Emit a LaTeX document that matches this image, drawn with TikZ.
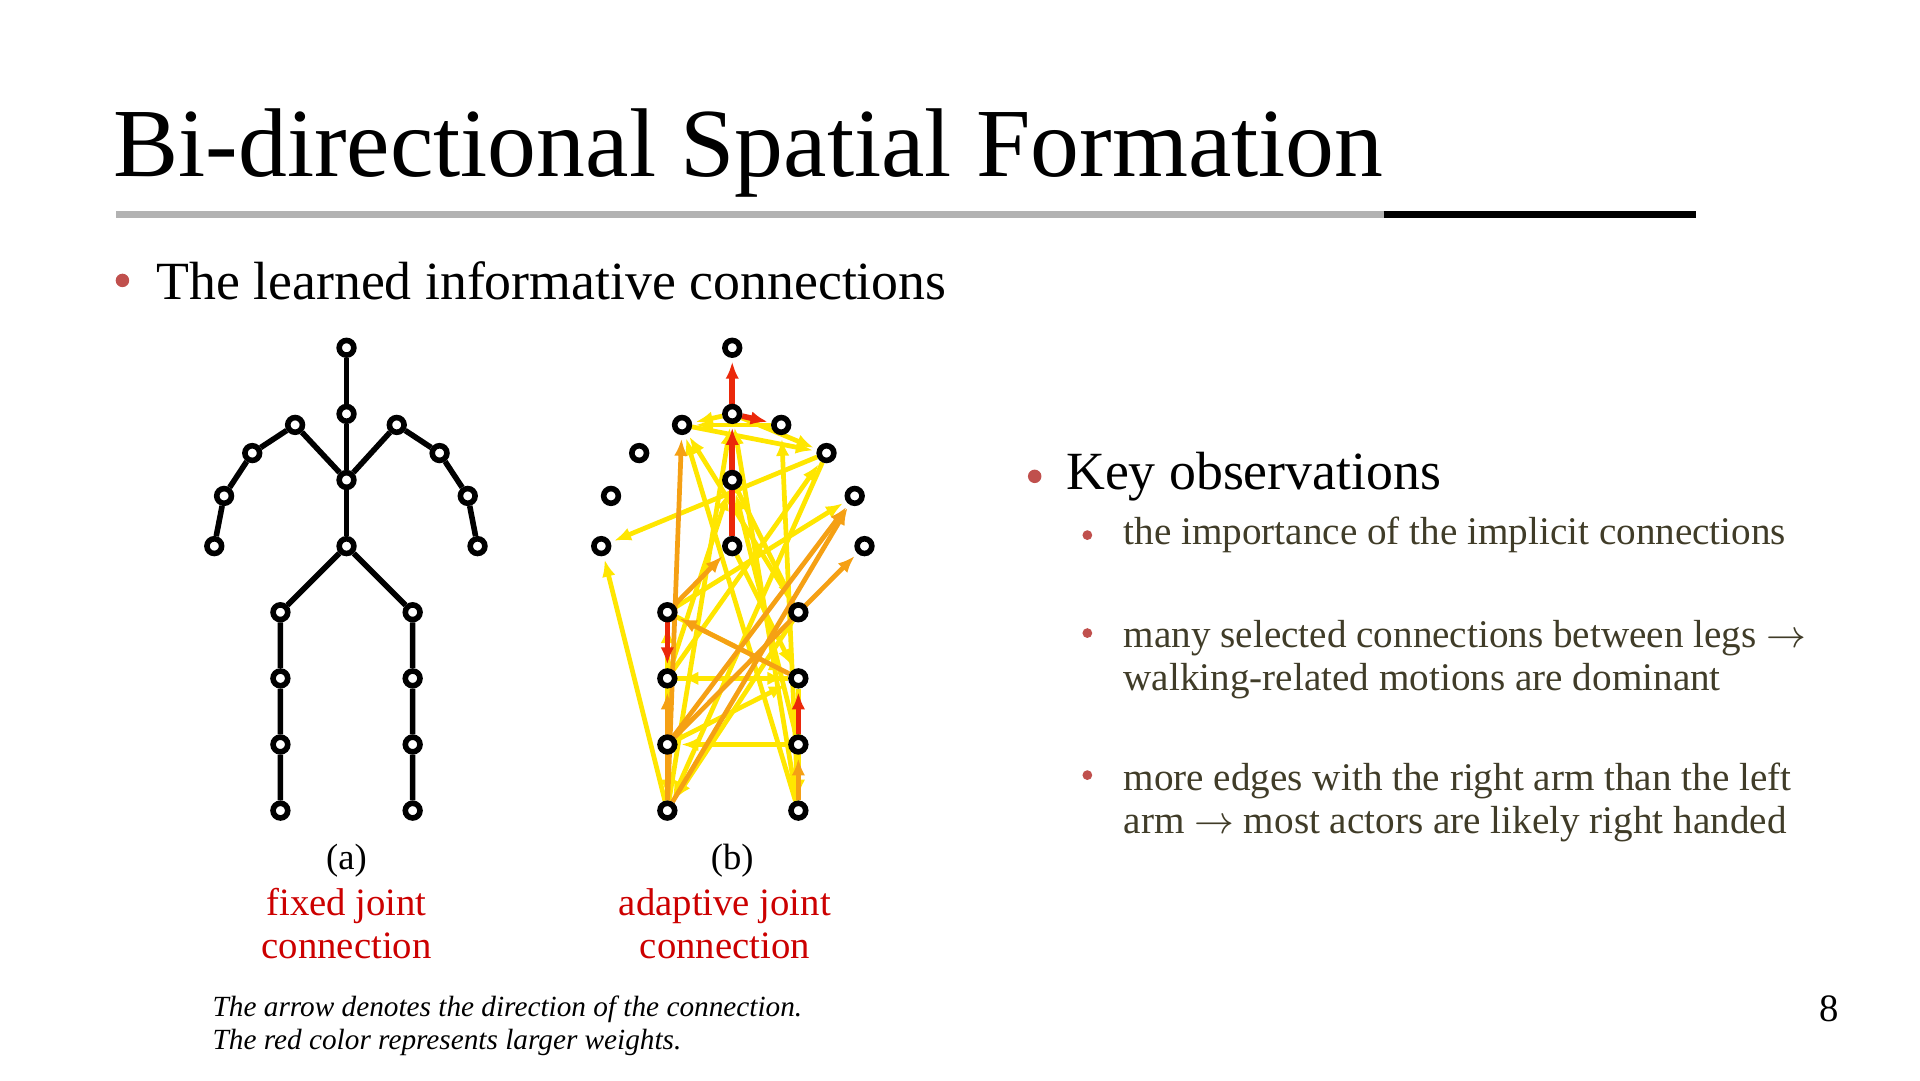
\documentclass[tikz,border=0pt]{standalone}
\usepackage{fontspec}
\setmainfont{Liberation Serif}
\usetikzlibrary{arrows.meta,backgrounds}
\definecolor{slidered}{RGB}{192,80,77}
\definecolor{capred}{RGB}{204,0,0}
\definecolor{subtxt}{RGB}{64,60,40}
\definecolor{jye}{RGB}{255,230,0}
\definecolor{jor}{RGB}{245,160,20}
\definecolor{jrd}{RGB}{235,40,10}
\tikzset{
  jnt/.style={circle,draw=black,fill=white,line width=1.3pt,inner sep=0pt,minimum size=1.2mm},
  bone/.style={line width=1.3pt,black},
  ye/.style={jye,line width=1.1pt,-{Latex[length=1.4mm,width=1.1mm]},shorten >=0.3mm},
  or/.style={jor,line width=1.1pt,-{Latex[length=1.4mm,width=1.1mm]},shorten >=0.3mm},
  rd/.style={jrd,line width=1.3pt,-{Latex[length=1.4mm,width=1.1mm]},shorten >=0.3mm},
  bul/.style={circle,fill=slidered,inner sep=0pt,minimum size=1.1mm},
  txt/.style={anchor=west,align=left,inner sep=0pt},
}
\begin{document}
\begin{tikzpicture}[x=0.1mm,y=-0.1mm]
\useasboundingbox (0,0) rectangle (1568,882);
% title
\node[txt,font=\fontsize{22.7}{26}\selectfont] (title) at (92,125) {Bi-directional Spatial Formation};
\draw[gray!60,line width=1.5pt] (95,175) -- (1130,175);
\draw[black,line width=1.5pt] (1130,175) -- (1385,175);
\node[bul] (b1) at (100,229) {};
\node[txt,font=\fontsize{12.5}{15}\selectfont] (t1) at (127,229) {The learned informative connections};
% (a) fixed skeleton
\node[jnt] (aH) at (283,284) {};
\node[jnt] (aN) at (283,338) {};
\node[jnt] (aS) at (283,392) {};
\node[jnt] (aB) at (283,446) {};
\node[jnt] (aL1) at (241,347) {};
\node[jnt] (aL2) at (206,370) {};
\node[jnt] (aL3) at (183,405) {};
\node[jnt] (aL4) at (175,446) {};
\node[jnt] (aR1) at (324,347) {};
\node[jnt] (aR2) at (359,370) {};
\node[jnt] (aR3) at (382,405) {};
\node[jnt] (aR4) at (390,446) {};
\node[jnt] (aHL) at (229,500) {};
\node[jnt] (aLK) at (229,554) {};
\node[jnt] (aLA) at (229,608) {};
\node[jnt] (aLF) at (229,662) {};
\node[jnt] (aHR) at (337,500) {};
\node[jnt] (aRK) at (337,554) {};
\node[jnt] (aRA) at (337,608) {};
\node[jnt] (aRF) at (337,662) {};
\begin{pgfonlayer}{background}
\draw[bone] (aH) -- (aN) -- (aS) -- (aB);
\draw[bone] (aS) -- (aL1) -- (aL2) -- (aL3) -- (aL4);
\draw[bone] (aS) -- (aR1) -- (aR2) -- (aR3) -- (aR4);
\draw[bone] (aB) -- (aHL) -- (aLK) -- (aLA) -- (aLF);
\draw[bone] (aB) -- (aHR) -- (aRK) -- (aRA) -- (aRF);
\end{pgfonlayer}
% (b) adaptive skeleton
\node[jnt] (bH) at (598,284) {};
\node[jnt] (bN) at (598,338) {};
\node[jnt] (bS) at (598,392) {};
\node[jnt] (bB) at (598,446) {};
\node[jnt] (bL1) at (557,347) {};
\node[jnt] (bL2) at (522,370) {};
\node[jnt] (bL3) at (499,405) {};
\node[jnt] (bL4) at (491,446) {};
\node[jnt] (bR1) at (638,347) {};
\node[jnt] (bR2) at (675,370) {};
\node[jnt] (bR3) at (698,405) {};
\node[jnt] (bR4) at (706,446) {};
\node[jnt] (bHL) at (545,500) {};
\node[jnt] (bLK) at (545,554) {};
\node[jnt] (bLA) at (545,608) {};
\node[jnt] (bLF) at (545,662) {};
\node[jnt] (bHR) at (652,500) {};
\node[jnt] (bRK) at (652,554) {};
\node[jnt] (bRA) at (652,608) {};
\node[jnt] (bRF) at (652,662) {};
\begin{pgfonlayer}{background}
\foreach \a/\b in {bLF/bL4,bR2/bL4,bLF/bN,bRF/bN,bLK/bRK,bRK/bLK,bLA/bRK,bHR/bLF,bLK/bS,bRF/bL1,bR2/bLF,bHR/bL1,bS/bHR,bN/bR2,bL1/bR2,bRA/bLA,bLK/bLF,bRK/bRF,bHL/bRK,bLA/bHL,bN/bL1,bR1/bL1,bRF/bR1,bHL/bR3,bB/bRK,bLK/bR2,bRA/bS}
  \draw[ye] (\a) -- (\b);
\foreach \a/\b in {bLF/bL1,bHL/bB,bLA/bR3,bLF/bR3,bLA/bR4,bRK/bHL,bLF/bLK,bRF/bRA}
  \draw[or] (\a) -- (\b);
\foreach \a/\b in {bN/bH,bB/bN,bN/bR1,bHL/bLK,bRA/bRK}
  \draw[rd] (\a) -- (\b);
\end{pgfonlayer}
% captions
\node[font=\fontsize{8.5}{10}\selectfont] (capa) at (283,703) {(a)};
\node[font=\fontsize{8.5}{10}\selectfont] (capb) at (598,703) {(b)};
\node[align=center,text=capred,font=\fontsize{9}{10}\selectfont] (laba) at (283,754) {fixed joint\\connection};
\node[align=center,text=capred,font=\fontsize{9}{10}\selectfont] (labb) at (592,754) {adaptive joint\\connection};
\node[txt,font=\fontsize{6.8}{7.7}\selectfont\itshape] (note) at (173,838) {The arrow denotes the direction of the connection.\\The red color represents larger weights.};
% right column
\node[bul] (b2) at (845,389) {};
\node[txt,font=\fontsize{12.5}{15}\selectfont] (t2) at (870,389) {Key observations};
\node[bul,minimum size=0.8mm] (b3) at (888,437) {};
\node[txt,text=subtxt,font=\fontsize{9.1}{10}\selectfont] (t3) at (917,437) {the importance of the implicit connections};
\node[bul,minimum size=0.8mm] (b4) at (888,517) {};
\node[txt,anchor=north west,text=subtxt,font=\fontsize{9.1}{10}\selectfont] (t4) at (917,506) {many selected connections between legs $\rightarrow$\\walking-related motions are dominant};
\node[bul,minimum size=0.8mm] (b5) at (888,633) {};
\node[txt,anchor=north west,text=subtxt,font=\fontsize{9.1}{10}\selectfont] (t5) at (917,622) {more edges with the right arm than the left\\arm $\rightarrow$ most actors are likely right handed};
\node[font=\fontsize{9}{11}\selectfont] (page) at (1494,824) {8};
\end{tikzpicture}
\end{document}
